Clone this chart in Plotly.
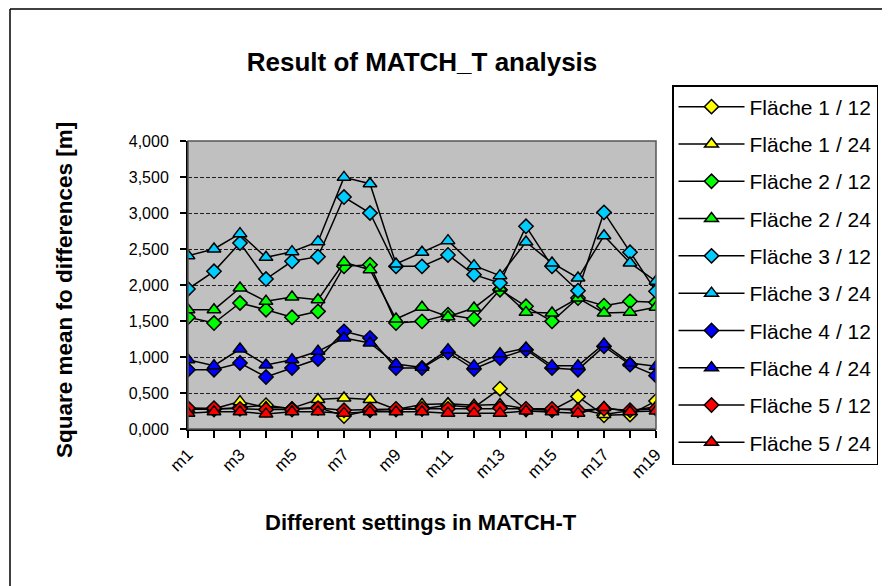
import plotly.graph_objects as go

categories = ["m%d" % i for i in range(1, 20)]
tick_labels = [c if i % 2 == 0 else "" for i, c in enumerate(categories)]

f1_12 = [0.28, 0.27, 0.30, 0.33, 0.28, 0.30, 0.18, 0.26, 0.27, 0.28, 0.33, 0.30, 0.56, 0.27, 0.26, 0.45, 0.19, 0.20, 0.39]
f1_24 = [0.27, 0.28, 0.38, 0.30, 0.29, 0.41, 0.43, 0.41, 0.27, 0.34, 0.35, 0.33, 0.34, 0.28, 0.27, 0.28, 0.20, 0.26, 0.31]
f2_12 = [1.551, 1.472, 1.750, 1.657, 1.551, 1.634, 2.259, 2.282, 1.472, 1.495, 1.588, 1.528, 1.935, 1.704, 1.495, 1.819, 1.713, 1.773, 1.759]
f2_24 = [1.657, 1.657, 1.958, 1.773, 1.833, 1.796, 2.315, 2.213, 1.528, 1.690, 1.560, 1.681, 1.958, 1.620, 1.611, 1.819, 1.611, 1.620, 1.690]
f3_12 = [1.944, 2.190, 2.583, 2.083, 2.329, 2.393, 3.222, 3.000, 2.259, 2.259, 2.417, 2.144, 2.028, 2.815, 2.259, 1.921, 3.009, 2.454, 1.912]
f3_24 = [2.407, 2.500, 2.713, 2.384, 2.463, 2.602, 3.495, 3.407, 2.292, 2.454, 2.616, 2.269, 2.130, 2.597, 2.306, 2.097, 2.685, 2.306, 2.051]
f4_12 = [0.824, 0.824, 0.917, 0.722, 0.847, 0.972, 1.356, 1.264, 0.847, 0.847, 1.065, 0.833, 0.986, 1.102, 0.847, 0.824, 1.148, 0.894, 0.741]
f4_24 = [0.963, 0.880, 1.111, 0.889, 0.963, 1.079, 1.264, 1.194, 0.903, 0.856, 1.102, 0.880, 1.046, 1.125, 0.880, 0.880, 1.181, 0.917, 0.870]
f5_12 = [0.29, 0.29, 0.28, 0.27, 0.27, 0.29, 0.26, 0.27, 0.28, 0.28, 0.28, 0.28, 0.29, 0.28, 0.28, 0.26, 0.28, 0.26, 0.28]
f5_24 = [0.22, 0.24, 0.24, 0.21, 0.24, 0.24, 0.22, 0.24, 0.24, 0.24, 0.22, 0.22, 0.22, 0.25, 0.24, 0.22, 0.30, 0.24, 0.25]

series = [
    ("Fläche 1 / 12", f1_12, "#ffff00", "diamond"),
    ("Fläche 1 / 24", f1_24, "#ffff00", "triangle-up"),
    ("Fläche 2 / 12", f2_12, "#00ff00", "diamond"),
    ("Fläche 2 / 24", f2_24, "#00ff00", "triangle-up"),
    ("Fläche 3 / 12", f3_12, "#00ccff", "diamond"),
    ("Fläche 3 / 24", f3_24, "#00ccff", "triangle-up"),
    ("Fläche 4 / 12", f4_12, "#0000ff", "diamond"),
    ("Fläche 4 / 24", f4_24, "#0000ff", "triangle-up"),
    ("Fläche 5 / 12", f5_12, "#ff0000", "diamond"),
    ("Fläche 5 / 24", f5_24, "#ff0000", "triangle-up"),
]

FONT = "Arial, Liberation Sans, sans-serif"
W, H = 890, 586
OFF = 8  # page body margin
L, R, T, B = 188, 656, 141, 429  # plot area bounds in page pixels
pw, ph = R - L, B - T

def px(x):
    return (x - L) / pw

def py(y):
    return (B - y) / ph

fig = go.Figure()
for i, (name, vals, col, sym) in enumerate(series):
    fig.add_trace(go.Scatter(
        x=categories, y=vals, name=name, mode="lines+markers",
        line=dict(color="black", width=1.5),
        marker=dict(symbol=sym, color=col, size=11 if sym == "diamond" else 12,
                    line=dict(color="black", width=1.5)),
        legendgroup="g%d" % i,
    ))

fig.update_layout(
    width=W, height=H,
    margin=dict(l=L - OFF, r=W - (R - OFF), t=T - OFF, b=H - (B - OFF), pad=0),
    paper_bgcolor="white", plot_bgcolor="#c0c0c0",
    separators=",.",
    font=dict(family=FONT, color="black", size=16),
    title=dict(text="<b>Result of MATCH_T analysis</b>", x=px(422), xref="paper",
               xanchor="center", y=1 - (62 - OFF) / H, yanchor="middle",
               font=dict(size=26, family=FONT)),
    xaxis=dict(type="category", range=[0, len(categories) - 1],
               tickvals=categories, ticktext=tick_labels, tickangle=-45,
               ticks="outside", ticklen=7, tickwidth=1.5, tickcolor="black",
               showline=True, linecolor="black", linewidth=2,
               showgrid=False, zeroline=False,
               tickfont=dict(size=17, family=FONT)),
    yaxis=dict(range=[0, 4], dtick=0.5, tickformat=".3f",
               ticks="outside", ticklen=6, tickwidth=1.5, tickcolor="black",
               showline=True, linecolor="black", linewidth=2,
               showgrid=True, gridcolor="#202020", gridwidth=1, griddash="4px,2px",
               zeroline=False, ticklabelstandoff=8,
               tickfont=dict(size=16, family=FONT)),
    legend=dict(x=px(672), xanchor="left", y=py(85), yanchor="top",
                bgcolor="white", bordercolor="black", borderwidth=1.5,
                font=dict(size=21, family=FONT), itemwidth=66,
                tracegroupgap=7, traceorder="grouped", maxheight=470),
    showlegend=True,
)

# plot-area border
fig.add_shape(type="rect", xref="paper", yref="paper", x0=0, x1=1, y0=0, y1=1,
              line=dict(color="#555555", width=1.5), layer="above")
# outer chart border (left and top edges visible in the frame)
fig.add_shape(type="line", xref="paper", yref="paper",
              x0=px(10), x1=px(10), y0=py(600), y1=py(9),
              line=dict(color="black", width=1.5))
fig.add_shape(type="line", xref="paper", yref="paper",
              x0=px(10), x1=px(900), y0=py(9), y1=py(9),
              line=dict(color="black", width=1.5))

fig.add_annotation(text="<b>Square mean fo differences [m]</b>", xref="paper", yref="paper",
                   x=px(64), y=py(290), textangle=-90, showarrow=False,
                   font=dict(size=22.5, family=FONT), xanchor="center", yanchor="middle")
fig.add_annotation(text="<b>Different settings in MATCH-T</b>", xref="paper", yref="paper",
                   x=px(421), y=py(522), showarrow=False,
                   font=dict(size=22, family=FONT), xanchor="center", yanchor="middle")

fig.write_html("out.html")
